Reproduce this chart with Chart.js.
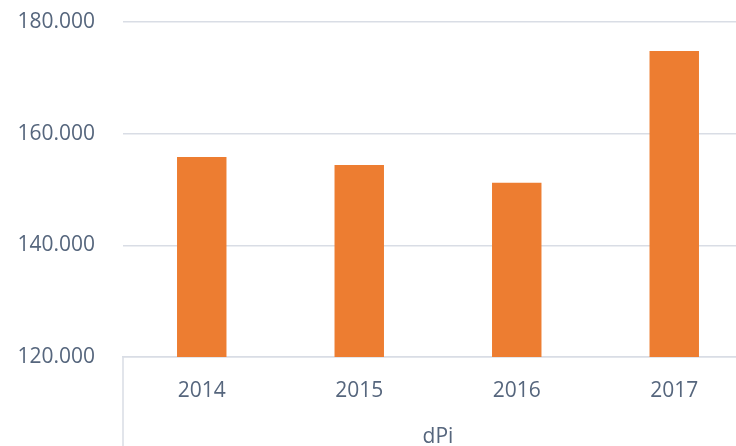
<!DOCTYPE html>
<html>
<head>
<meta charset="utf-8">
<script src="https://cdn.jsdelivr.net/npm/chart.js@4/dist/chart.umd.min.js"></script>
<style>
  html, body { margin: 0; padding: 0; background: #ffffff; overflow: hidden; }
  #wrap { width: 736px; height: 446px; overflow: hidden; }
  canvas { display: block; }
</style>
</head>
<body>
<div id="wrap"><canvas id="chart" width="753" height="446"></canvas></div>
<script>
  'use strict';

  const years = ['2014', '2015', '2016', '2017'];
  const dpiValues = [155800, 154400, 151200, 174800];
  const axisTitle = 'dPi';

  const textColor = '#56667d';
  const lineColor = '#d9dde5';
  const font = { family: '"Open Sans", sans-serif', size: 21 };

  const formatThousands = (value) => String(value).replace(/\B(?=(\d{3})+(?!\d))/g, '.');

  // left edge of the category axis runs down to the bottom of the picture
  const axisEdge = {
    id: 'axisEdge',
    afterDraw(chart) {
      const { ctx, chartArea } = chart;
      ctx.save();
      ctx.strokeStyle = lineColor;
      ctx.lineWidth = 1.5;
      ctx.beginPath();
      ctx.moveTo(chartArea.left, chartArea.bottom);
      ctx.lineTo(chartArea.left, chart.height);
      ctx.stroke();
      ctx.restore();
    },
  };

  new Chart(document.getElementById('chart'), {
    type: 'bar',
    data: {
      labels: years,
      datasets: [{
        label: axisTitle,
        data: dpiValues,
        backgroundColor: '#ed7d31',
        borderWidth: 0,
        barPercentage: 0.314,
        categoryPercentage: 1,
      }],
    },
    plugins: [axisEdge],
    options: {
      responsive: false,
      animation: false,
      layout: { padding: { top: 22, right: 0, bottom: 0, left: 0 } },
      plugins: {
        legend: { display: false },
        tooltip: { enabled: false },
      },
      scales: {
        x: {
          afterFit: (scale) => { scale.height = 89; },
          grid: { display: false, drawTicks: false },
          border: { display: true, color: lineColor, width: 1.5 },
          ticks: { color: textColor, font, padding: 21, maxRotation: 0 },
          title: { display: true, text: axisTitle, color: textColor, font, padding: { top: 0, bottom: -4 } },
        },
        y: {
          min: 120000,
          max: 180000,
          afterFit: (scale) => {
            scale.width = 123;
            scale.paddingTop = 0;
            scale.paddingBottom = 0;
          },
          grid: { color: lineColor, lineWidth: 1.5, drawTicks: false },
          border: { display: false },
          ticks: {
            stepSize: 20000,
            color: textColor,
            font,
            padding: 28,
            callback: (value) => formatThousands(value),
          },
        },
      },
    },
  });
</script>
</body>
</html>
